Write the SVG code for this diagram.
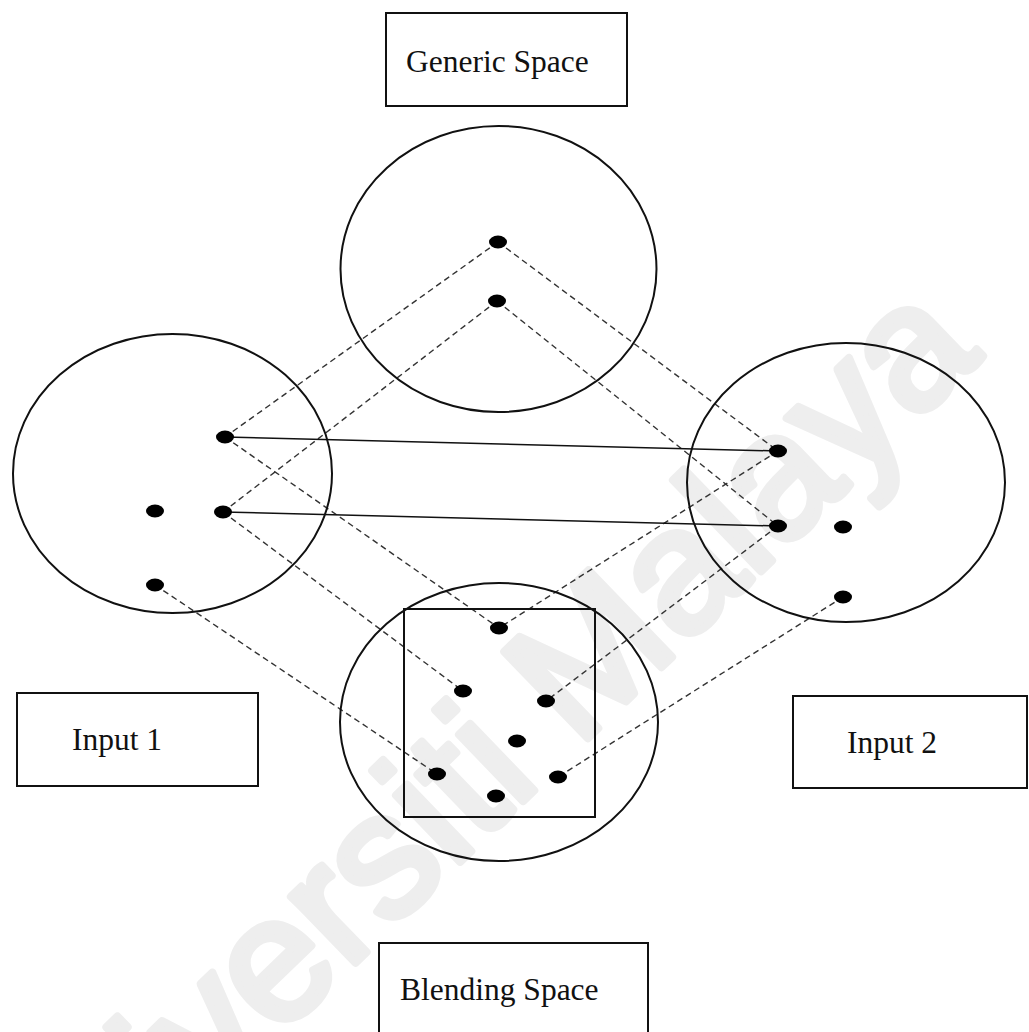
<svg xmlns="http://www.w3.org/2000/svg" width="1029" height="1032" viewBox="0 0 1029 1032">
  <style>
    .label { font-family: "Liberation Serif", "Times New Roman", serif; font-size: 31.5px; fill: #111; }
    .box { fill: none; stroke: #111; stroke-width: 2; }
    .space { fill: none; stroke: #111; stroke-width: 2; }
    .dot { fill: #000; }
    .dash { stroke: #333; stroke-width: 1.4; stroke-dasharray: 6 4; fill: none; }
    .link { stroke: #111; stroke-width: 1.5; fill: none; }
    .mark { font-family: "Liberation Sans", Arial, sans-serif; font-size: 175px; fill: #eeeeee; stroke: #eeeeee; stroke-width: 8; stroke-linejoin: round; }
  </style>

  <rect x="0" y="0" width="1029" height="1032" fill="#fff"/>

  <!-- faint diagonal watermark behind the drawing -->
  <text class="mark" x="25" y="1282" transform="rotate(-44 25 1282)">Universiti Malaya</text>

  <!-- dashed and solid mappings between points of the four spaces -->
  <g id="connectors">
    <line class="dash" x1="498" y1="242" x2="225" y2="437"/>
    <line class="dash" x1="498" y1="242" x2="778" y2="451"/>
    <line class="dash" x1="497" y1="301" x2="223" y2="512"/>
    <line class="dash" x1="497" y1="301" x2="778" y2="526"/>
    <line class="dash" x1="225" y1="437" x2="499" y2="628"/>
    <line class="dash" x1="223" y1="512" x2="463" y2="691"/>
    <line class="dash" x1="155" y1="585" x2="437" y2="774"/>
    <line class="dash" x1="778" y1="451" x2="499" y2="628"/>
    <line class="dash" x1="778" y1="526" x2="546" y2="701"/>
    <line class="dash" x1="843" y1="597" x2="558" y2="777"/>
    <line class="link" x1="225" y1="437" x2="778" y2="451"/>
    <line class="link" x1="223" y1="512" x2="778" y2="526"/>
  </g>

  <!-- generic space (top) -->
  <g id="generic-space">
    <ellipse class="space" cx="498.5" cy="269" rx="158" ry="143"/>
    <ellipse class="dot" cx="498" cy="242" rx="9" ry="6.5"/>
    <ellipse class="dot" cx="497" cy="301" rx="9" ry="6.5"/>
  </g>

  <!-- input space 1 (left) -->
  <g id="input-1">
    <ellipse class="space" cx="172.5" cy="473.5" rx="159.5" ry="139.5"/>
    <ellipse class="dot" cx="225" cy="437" rx="9" ry="6.5"/>
    <ellipse class="dot" cx="155" cy="511" rx="9" ry="6.5"/>
    <ellipse class="dot" cx="223" cy="512" rx="9" ry="6.5"/>
    <ellipse class="dot" cx="155" cy="585" rx="9" ry="6.5"/>
  </g>

  <!-- input space 2 (right) -->
  <g id="input-2">
    <ellipse class="space" cx="846" cy="482.5" rx="159" ry="139.5"/>
    <ellipse class="dot" cx="778" cy="451" rx="9" ry="6.5"/>
    <ellipse class="dot" cx="778" cy="526" rx="9" ry="6.5"/>
    <ellipse class="dot" cx="843" cy="527" rx="9" ry="6.5"/>
    <ellipse class="dot" cx="843" cy="597" rx="9" ry="6.5"/>
  </g>

  <!-- blended space (bottom) with its emergent structure frame -->
  <g id="blending-space">
    <ellipse class="space" cx="499" cy="722" rx="159" ry="139"/>
    <rect class="box" x="404" y="609" width="191" height="208"/>
    <ellipse class="dot" cx="499" cy="628" rx="9" ry="6.5"/>
    <ellipse class="dot" cx="463" cy="691" rx="9" ry="6.5"/>
    <ellipse class="dot" cx="546" cy="701" rx="9" ry="6.5"/>
    <ellipse class="dot" cx="517" cy="741" rx="9" ry="6.5"/>
    <ellipse class="dot" cx="437" cy="774" rx="9" ry="6.5"/>
    <ellipse class="dot" cx="558" cy="777" rx="9" ry="6.5"/>
    <ellipse class="dot" cx="496" cy="796" rx="9" ry="6.5"/>
  </g>

  <!-- labels -->
  <g id="label-generic">
    <rect class="box" x="386" y="13" width="241" height="93"/>
    <text class="label" x="406" y="72" font-size="32.5">Generic Space</text>
  </g>
  <g id="label-input-1">
    <rect class="box" x="17" y="693" width="241" height="93"/>
    <text class="label" x="72" y="750">Input 1</text>
  </g>
  <g id="label-input-2">
    <rect class="box" x="793" y="696" width="234" height="92"/>
    <text class="label" x="847" y="753">Input 2</text>
  </g>
  <g id="label-blending">
    <rect class="box" x="379" y="943" width="269" height="95"/>
    <text class="label" x="400" y="1000">Blending Space</text>
  </g>
</svg>
